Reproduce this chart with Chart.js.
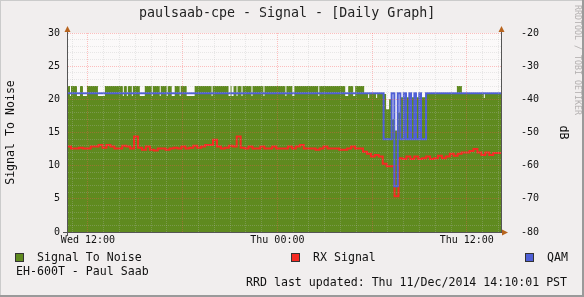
<!DOCTYPE html>
<html>
<head>
<meta charset="utf-8">
<script src="https://cdn.jsdelivr.net/npm/chart.js@4.4.1/dist/chart.umd.min.js"></script>
<style>
  html, body { margin: 0; padding: 0; background: #f1eeee; }
  #wrap { position: relative; width: 584px; height: 297px; overflow: hidden;
          font-family: "DejaVu Sans Mono", monospace; color: #111; }
  #wrap canvas { position: absolute; left: 0; top: 0; }
  .t { position: absolute; white-space: pre; line-height: 1; }
  .leg { font-size: 11.6px; }
  .box { position: absolute; width: 7px; height: 7px; border: 1px solid #333; }
  #title { font-size: 13.3px; left: 139px; top: 6px; color: #222; }
  #brand { font-size: 8.3px; color: #b4b0b0; left: 582px; top: 5px;
           transform: rotate(90deg); transform-origin: 0 0; }
</style>
</head>
<body>
<div id="wrap">
  <canvas id="chart" width="584" height="297"></canvas>
  <div class="t" id="title">paulsaab-cpe - Signal - [Daily Graph]</div>
  <div class="t" id="brand">RRDTOOL / TOBI OETIKER</div>

  <div class="box" style="left:15px;top:253px;background:#5f8a1f"></div>
  <div class="t leg" style="left:37px;top:251.5px">Signal To Noise</div>
  <div class="box" style="left:291px;top:253px;background:#f52a22"></div>
  <div class="t leg" style="left:313px;top:251.5px">RX Signal</div>
  <div class="box" style="left:525px;top:253px;background:#4f5fd6"></div>
  <div class="t leg" style="left:547px;top:251.5px">QAM</div>

  <div class="t leg" style="left:16px;top:265.5px">EH-600T - Paul Saab</div>
  <div class="t leg" style="left:246px;top:277px">RRD last updated: Thu 11/Dec/2014 14:10:01 PST</div>
</div>

<script>
// time axis: hours counted from Wed 00:00 (Wed 10:40 .. Thu 14:10)
const xMin = 10.673;
const xMax = 38.167;
const xTickHours = [12, 24, 36];
const xTickText = ["Wed 12:00", "Thu 00:00", "Thu 12:00"];

// Signal To Noise, as change points (hour, value)
const snrTimes = [
  10.673, 10.863, 10.926, 11.305, 11.495, 11.684, 11.937, 12.632, 13.074,
  14.211, 14.274, 14.464, 14.527, 14.780, 14.843, 15.285, 15.601, 16.043, 16.106,
  16.548, 16.611, 16.991, 17.054, 17.306, 17.496, 17.812, 17.875, 18.254, 18.759,
  19.833, 19.896, 20.907, 21.033, 21.097, 21.223, 21.412, 21.476, 21.728, 21.791,
  22.360, 22.423, 23.118, 23.181, 24.508, 24.571, 24.950, 25.076, 26.592, 26.655,
  28.298, 28.487, 28.803, 28.929, 29.498, 29.751, 29.814, 30.256, 30.319,
  30.888, 31.078, 31.267, 31.394, 31.646, 31.773, 33.415,
  35.373, 35.689, 37.079, 37.142, 38.167
];
const snrValues = [
  22.0, 20.5, 22.0, 20.5, 22.0, 20.5, 22.0, 20.5, 22.0,
  20.5, 22.0, 20.5, 22.0, 20.5, 22.0, 20.5, 22.0, 20.5, 22.0,
  20.5, 22.0, 20.5, 22.0, 20.5, 22.0, 20.5, 22.0, 20.5, 22.0,
  20.5, 22.0, 20.5, 22.0, 20.5, 22.0, 20.5, 22.0, 20.5, 22.0,
  20.5, 22.0, 20.5, 22.0, 20.5, 22.0, 20.5, 22.0, 20.5, 22.0,
  20.5, 22.0, 20.5, 22.0, 20.8, 20.2, 20.8, 20.2, 20.8,
  18.5, 20.0, 17.0, 15.3, 18.0, 20.3, 20.8,
  22.0, 20.8, 20.2, 20.8, 20.8
];

// QAM, as change points (hour, value on the left scale)
const qamTimes = [
  10.673, 30.73, 31.24, 31.41, 31.63, 31.79, 32.01, 32.15, 32.36,
  32.47, 32.68, 32.78, 32.99, 33.10, 33.42, 38.167
];
const qamValues = [
  20.9, 14.0, 20.9, 6.9, 20.9, 14.0, 20.9, 14.0, 20.9,
  14.0, 20.9, 14.0, 20.9, 14.0, 20.9, 20.9
];

// RX Signal, one value every 15 minutes from xMin
const rxStepHours = 0.25;
const rxValues = [
  12.9, 12.6, 12.6, 12.7, 12.6, 12.6, 12.9, 12.9, 13.1, 12.7,
  13.1, 12.9, 12.6, 12.6, 13.0, 12.9, 12.6, 14.4, 12.7, 12.4,
  12.9, 12.4, 12.3, 12.6, 12.6, 12.4, 12.6, 12.7, 12.6, 12.9,
  12.6, 12.7, 13.0, 12.7, 12.9, 13.1, 13.1, 13.9, 12.9, 12.6,
  12.7, 13.0, 12.9, 14.4, 12.7, 12.6, 12.9, 12.6, 12.6, 12.9,
  12.6, 12.6, 12.9, 12.6, 12.6, 12.6, 12.9, 12.6, 12.9, 13.1,
  12.6, 12.6, 12.6, 12.4, 12.6, 12.9, 12.6, 12.6, 12.6, 12.4,
  12.4, 12.6, 12.9, 12.6, 12.6, 12.1, 11.8, 11.4, 11.6, 11.4,
  10.3, 9.9, 9.9, 5.4, 11.1, 11.0, 11.4, 11.0, 11.4, 11.0,
  11.1, 11.4, 11.0, 11.1, 11.5, 11.1, 11.4, 11.8, 11.5, 11.8,
  12.0, 12.0, 12.2, 12.5, 12.0, 11.6, 12.0, 11.6, 11.9, 11.9, 11.9
];

const GREEN = "#5f8a1f";
const RED = "#f52a22";
const BLUE = "#4f5fd6";
const GRID = "rgba(185,185,185,0.3)";
const MGRID = "rgba(255,80,80,0.35)";
const AXIS = "#555555";
const ARROW = "#b8641e";
const FONT = "'DejaVu Sans Mono', monospace";

const pts = (ts, vs) => ts.map((t, i) => ({ x: t, y: vs[i] }));
const rxPts = rxValues.map((v, i) => ({ x: xMin + i * rxStepHours, y: v }));

/* backgrounds, frame, axis arrows */
const rrdLook = {
  id: "rrdLook",
  beforeDraw(chart) {
    const { ctx, chartArea: a } = chart;
    ctx.save();
    ctx.fillStyle = "#fbf9f9";
    ctx.fillRect(a.left, a.top, a.right - a.left, a.bottom - a.top);
    ctx.restore();
  },
  afterDraw(chart) {
    const { ctx, chartArea: a, width, height } = chart;
    ctx.save();
    // axis extensions
    ctx.strokeStyle = AXIS;
    ctx.lineWidth = 1;
    ctx.beginPath();
    ctx.moveTo(a.left + 0.5, a.top - 3); ctx.lineTo(a.left + 0.5, a.bottom + 4);
    ctx.moveTo(a.left - 4, a.bottom + 0.5); ctx.lineTo(a.right + 3, a.bottom + 0.5);
    ctx.moveTo(a.right + 0.5, a.top - 3); ctx.lineTo(a.right + 0.5, a.bottom);
    ctx.stroke();
    // arrows
    ctx.fillStyle = ARROW;
    const tri = (p) => { ctx.beginPath(); ctx.moveTo(...p[0]); ctx.lineTo(...p[1]); ctx.lineTo(...p[2]); ctx.closePath(); ctx.fill(); };
    tri([[a.left + 0.5, a.top - 7], [a.left - 2.5, a.top - 1], [a.left + 3.5, a.top - 1]]);
    tri([[a.right + 0.5, a.top - 7], [a.right - 2.5, a.top - 1], [a.right + 3.5, a.top - 1]]);
    tri([[a.right + 7, a.bottom + 0.5], [a.right + 1, a.bottom - 2.5], [a.right + 1, a.bottom + 3.5]]);
    // frame
    ctx.fillStyle = "#cbcbcb";
    ctx.fillRect(0, 0, width, 1);
    ctx.fillRect(0, 0, 1, height);
    ctx.fillStyle = "#9a9a9a";
    ctx.fillRect(0, height - 2, width, 2);
    ctx.fillRect(width - 2, 0, 2, height);
    ctx.restore();
  }
};

new Chart(document.getElementById("chart"), {
  type: "line",
  data: {
    datasets: [
      {
        label: "QAM",
        data: pts(qamTimes, qamValues),
        borderColor: BLUE,
        borderWidth: 2,
        stepped: true,
        fill: false,
        pointRadius: 0,
      },
      {
        label: "RX Signal",
        data: rxPts,
        borderColor: RED,
        borderWidth: 2,
        stepped: true,
        fill: false,
        pointRadius: 0,
      },
      {
        label: "Signal To Noise",
        data: pts(snrTimes, snrValues),
        borderWidth: 0,
        borderColor: "rgba(0,0,0,0)",
        backgroundColor: GREEN,
        stepped: true,
        fill: "origin",
        pointRadius: 0,
      },
    ],
  },
  options: {
    responsive: false,
    animation: false,
    events: [],
    layout: { padding: { top: 33, left: 0, right: 0, bottom: 0 } },
    plugins: { legend: { display: false }, tooltip: { enabled: false } },
    scales: {
      x: {
        type: "linear",
        min: xMin,
        max: xMax,
        afterFit: (s) => { s.height = 65; },
        grid: {
          z: 1,
          drawTicks: false,
          color: (c) => (c.tick && c.tick.value % 6 === 0 ? MGRID : GRID),
        },
        border: { color: AXIS, dash: [1, 1], z: 2 },
        ticks: {
          stepSize: 1,
          includeBounds: false,
          autoSkip: false,
          maxRotation: 0,
          padding: 2,
          color: "#111",
          font: { family: FONT, size: 10 },
          callback: (v) => {
            const i = xTickHours.indexOf(v);
            return i >= 0 ? xTickText[i] : "";
          },
        },
      },
      y: {
        position: "left",
        min: 0,
        max: 30,
        afterFit: (s) => { s.width = 67; },
        grid: {
          z: 1,
          drawTicks: false,
          color: (c) => (c.tick && c.tick.value % 5 === 0 ? MGRID : GRID),
        },
        border: { color: AXIS, dash: [1, 1], z: 2 },
        title: {
          display: true,
          text: "Signal To Noise",
          color: "#111",
          font: { family: FONT, size: 11.6 },
          padding: { top: 4, bottom: 0 },
        },
        ticks: {
          stepSize: 1,
          autoSkip: false,
          padding: 7,
          color: "#111",
          font: { family: FONT, size: 10 },
          callback: (v) => (v % 5 === 0 ? String(v) : ""),
        },
      },
      y2: {
        position: "right",
        min: -80,
        max: -20,
        afterFit: (s) => { s.width = 83; },
        grid: { display: false, drawTicks: false },
        border: { color: AXIS },
        title: {
          display: true,
          text: "dB",
          color: "#111",
          font: { family: FONT, size: 11.6 },
          padding: { top: 14, bottom: 0 },
        },
        ticks: {
          stepSize: 10,
          autoSkip: false,
          padding: 20,
          color: "#111",
          font: { family: FONT, size: 10 },
        },
      },
    },
  },
  plugins: [rrdLook],
});
</script>
</body>
</html>
